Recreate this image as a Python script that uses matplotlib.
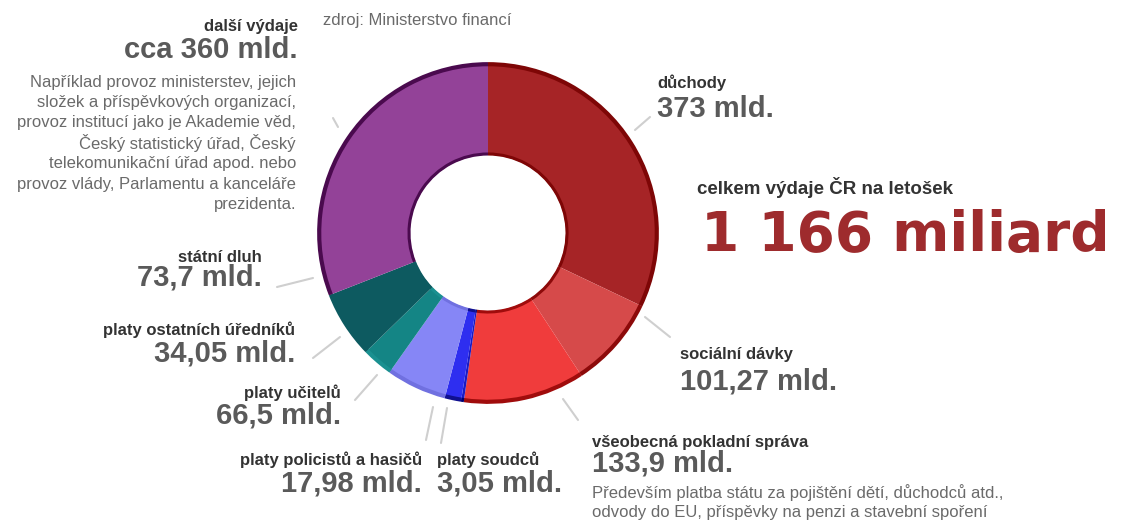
import matplotlib.pyplot as plt
from matplotlib.patches import Arc

# data: state budget expenditures (mld. Kč), clockwise from 12 o'clock
categories = ["důchody", "sociální dávky", "všeobecná pokladní správa",
              "platy soudců", "platy policistů a hasičů", "platy učitelů",
              "platy ostatních úředníků", "státní dluh", "další výdaje"]
values = [373, 101.27, 133.9, 3.05, 17.98, 66.5, 34.05, 73.7, 360]
value_labels = ["373 mld.", "101,27 mld.", "133,9 mld.", "3,05 mld.",
                "17,98 mld.", "66,5 mld.", "34,05 mld.", "73,7 mld.",
                "cca 360 mld."]
total_caption = "celkem výdaje ČR na letošek"
total_label = "1 166 miliard"
source = "zdroj: Ministerstvo financí"
note_other = ["Například provoz ministerstev, jejich",
              "složek a příspěvkových organizací,",
              "provoz institucí jako je Akademie věd,",
              "Český statistický úřad, Český",
              "telekomunikační úřad apod. nebo",
              "provoz vlády, Parlamentu a kanceláře",
              "prezidenta."]
note_treasury = ["Především platba státu za pojištění dětí, důchodců atd.,",
                 "odvody do EU, příspěvky na penzi a stavební spoření"]

colors = ["#a62426", "#d64a4a", "#f03c3c", "#1a1ac4", "#2e2ef0",
          "#8686f6", "#148585", "#0d5a60", "#934298"]
edge_colors = ["#7e0606", "#8c0a0a", "#a00c0c", "#000070", "#101090",
               "#7070e0", "#1a9090", "#0d5a60", "#4a0a4e"]

W, H = 1122, 525
plt.rcParams["font.family"] = ["Liberation Sans", "DejaVu Sans"]

fig = plt.figure(figsize=(W / 100, H / 100), dpi=100)
ax = fig.add_axes([0, 0, 1, 1])

cx, cy = 488, H - 233
R, r = 170, 78
wedges, _ = ax.pie(values, colors=colors, startangle=90, counterclock=False,
                   radius=R, center=(cx, cy),
                   wedgeprops=dict(width=R - r, linewidth=0))

# dark rim along the outer and inner edge of each slice
for w, ec in zip(wedges, edge_colors):
    for rad, lw in ((R - 1.2, 3.0), (r + 1.0, 2.2)):
        ax.add_patch(Arc((cx, cy), 2 * rad, 2 * rad, theta1=w.theta1,
                         theta2=w.theta2, color=ec, lw=lw))

ax.set_xlim(0, W)
ax.set_ylim(0, H)
ax.set_aspect("auto")
ax.axis("off")


def Y(y):
    return H - y


name_kw = dict(fontsize=12, fontweight="bold", color="#333333", va="center")
val_kw = dict(fontsize=21, fontweight="bold", color="#5a5a5a", va="center")

# (x, name_y, value_y, ha) for each category label
label_pos = [
    (657, 83, 109, "left"),
    (680, 355, 381, "left"),
    (592, 442, 464, "left"),
    (437, 460, 484, "left"),
    (422, 460, 484, "right"),
    (341, 393, 416, "right"),
    (295, 330, 354, "right"),
    (262, 257, 278, "right"),
    (298, 27, 50, "right"),
]
for name, val, (x, yn, yv, ha) in zip(categories, value_labels, label_pos):
    ax.text(x, Y(yn), name, ha=ha, **name_kw)
    ax.text(x, Y(yv), val, ha=ha, **val_kw)

leaders = [
    ((635, 130), (650, 117)),
    ((645, 317), (670, 337)),
    ((563, 399), (578, 420)),
    ((447, 408), (441, 443)),
    ((433, 407), (426, 440)),
    ((377, 375), (355, 400)),
    ((340, 337), (313, 358)),
    ((313, 278), (277, 287)),
    ((333, 118), (338, 127)),
]
for (x0, y0), (x1, y1) in leaders:
    ax.plot([x0, x1], [Y(y0), Y(y1)], color="#cfcfcf", lw=1.5,
            solid_capstyle="round")

note_kw = dict(fontsize=12, color="#6a6a6a", va="center")
for i, line in enumerate(note_other):
    ax.text(296, Y(82 + i * 20.4), line, ha="right", **note_kw)
for i, line in enumerate(note_treasury):
    ax.text(592, Y(493 + i * 19), line, ha="left", **note_kw)

ax.text(323, Y(20), source, ha="left", **note_kw)

ax.text(697, Y(188), total_caption, ha="left", fontsize=13.5,
        fontweight="bold", color="#333333", va="center")
ax.text(701, Y(236), total_label, ha="left", va="center", fontsize=39.5,
        fontweight="bold", color="#9e2b2d", family="DejaVu Sans")

fig.savefig("out.png", dpi=100, facecolor="white")
